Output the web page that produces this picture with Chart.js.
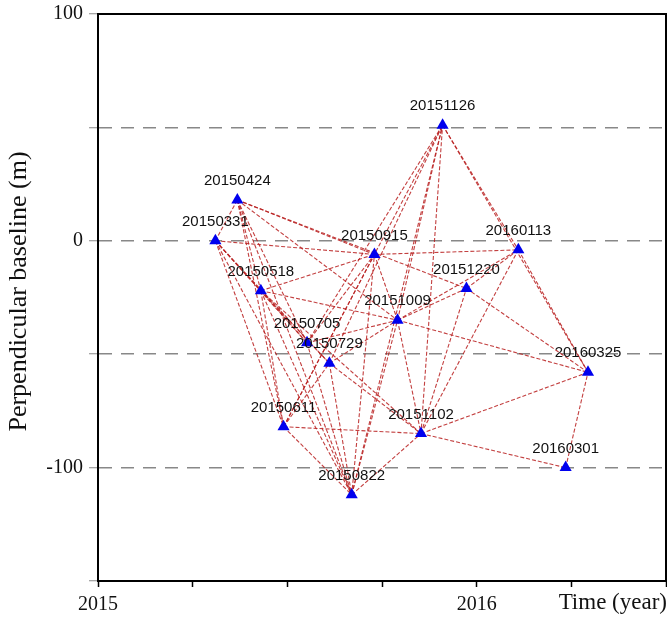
<!DOCTYPE html>
<html>
<head>
<meta charset="utf-8">
<script src="https://cdn.jsdelivr.net/npm/chart.js@4/dist/chart.umd.min.js"></script>
<style>
html,body{margin:0;padding:0;background:#fff;}
#wrap{width:667px;height:619px;}
</style>
</head>
<body>
<div id="wrap"><canvas id="c" width="667" height="619"></canvas></div>
<script>
// Acquisition dates (labels)
const dates = ['20150331','20150424','20150518','20150611','20150705','20150729','20150822','20150915','20151009','20151102','20151126','20151220','20160113','20160301','20160325'];
// Time positions (decimal year, as plotted)
const times = [2015.310,2015.368,2015.430,2015.490,2015.552,2015.611,2015.670,2015.730,2015.791,2015.853,2015.910,2015.973,2016.110,2016.235,2016.294];
// Perpendicular baselines (m)
const baselines = [0,18,-22,-82,-45,-54,-112,-6,-35,-85,51,-21,-4,-100,-58];
// Interferometric pairs (master, slave)
const pairs = [
 ['20150331','20150424'],['20150331','20150518'],['20150331','20150611'],['20150331','20150705'],
 ['20150331','20150729'],['20150331','20150822'],['20150331','20150915'],
 ['20150424','20150518'],['20150424','20150611'],['20150424','20150705'],['20150424','20150822'],
 ['20150424','20150915'],['20150424','20151009'],['20150424','20151220'],
 ['20150518','20150611'],['20150518','20150705'],['20150518','20150729'],['20150518','20150822'],
 ['20150518','20150915'],['20150518','20151009'],['20150518','20151102'],
 ['20150611','20150729'],['20150611','20150822'],['20150611','20150915'],['20150611','20151102'],['20150611','20151126'],
 ['20150705','20150822'],['20150705','20151009'],['20150705','20150915'],['20150705','20151126'],
 ['20150729','20150822'],['20150729','20151009'],['20150729','20151102'],['20150729','20151126'],
 ['20150822','20150915'],['20150822','20151009'],['20150822','20151102'],['20150822','20151126'],
 ['20150915','20151009'],['20150915','20160113'],
 ['20151009','20151102'],['20151009','20151126'],['20151009','20151220'],['20151009','20160113'],['20151009','20160325'],
 ['20151102','20151126'],['20151102','20151220'],['20151102','20160113'],['20151102','20160301'],['20151102','20160325'],
 ['20151220','20160113'],['20151220','20160325'],
 ['20151126','20160113'],['20151126','20160325'],['20160113','20160325'],['20160301','20160325']
];
// Axis settings
const xTickLabels = [2015, 2016];
const yTickLabels = [100, 0, -100];

const pt = d => { const i = dates.indexOf(d); return {x: times[i], y: baselines[i]}; };

const datasets = [{
  type: 'scatter',
  label: 'acquisitions',
  data: dates.map((d,i)=>({x: times[i], y: baselines[i]})),
  pointStyle: 'triangle',
  pointRadius: 7,
  pointHoverRadius: 7,
  backgroundColor: '#0000ee',
  borderColor: '#0000ee',
  borderWidth: 0,
  order: 0
}];
pairs.forEach(p => {
  datasets.push({
    type: 'line',
    data: [pt(p[0]), pt(p[1])],
    showLine: true,
    pointRadius: 0,
    borderColor: 'rgba(185,30,30,0.85)',
    borderWidth: 1.1,
    borderDash: [4,2],
    fill: false,
    tension: 0,
    order: 1
  });
});

const labelPlugin = {
  id: 'labels',
  afterDatasetsDraw(chart) {
    const {ctx, scales:{x, y}} = chart;
    ctx.save();
    ctx.font = '15px "Liberation Sans", Arial, sans-serif';
    ctx.fillStyle = '#111';
    ctx.textAlign = 'center';
    ctx.textBaseline = 'middle';
    dates.forEach((d,i) => {
      ctx.fillText(d, x.getPixelForValue(times[i]), y.getPixelForValue(baselines[i]) - 19);
    });
    ctx.restore();
  },
  afterDraw(chart) {
    const {ctx, chartArea:a} = chart;
    ctx.save();
    ctx.strokeStyle = '#000';
    ctx.lineWidth = 2;
    ctx.strokeRect(a.left, a.top, a.right - a.left, a.bottom - a.top);
    // axis titles
    ctx.fillStyle = '#111';
    ctx.font = '23px "Liberation Serif", "Times New Roman", serif';
    ctx.textAlign = 'right';
    ctx.textBaseline = 'middle';
    ctx.fillText('Time (year)', 667, 603);
    ctx.font = '26px "Liberation Serif", "Times New Roman", serif';
    ctx.translate(19, (a.top + a.bottom) / 2 - 6);
    ctx.rotate(-Math.PI/2);
    ctx.textAlign = 'center';
    ctx.fillText('Perpendicular baseline (m)', 0, 0);
    ctx.restore();
  }
};

new Chart(document.getElementById('c'), {
  type: 'scatter',
  data: { datasets },
  options: {
    responsive: false,
    animation: false,
    layout: { autoPadding: false, padding: { top: 14, right: 1, left: 0, bottom: 0 } },
    plugins: { legend: { display: false }, tooltip: { enabled: false } },
    scales: {
      x: {
        type: 'linear', min: 2015, max: 2016.5,
        afterFit: s => { s.height = 38; s.paddingLeft = 0; s.paddingRight = 0; },
        ticks: {
          stepSize: 0.25, autoSkip: false, maxRotation: 0,
          color: '#111', padding: 6,
          font: { family: '"Liberation Serif", "Times New Roman", serif', size: 20 },
          callback: v => xTickLabels.includes(v) ? String(v) : ''
        },
        grid: { drawOnChartArea: false, drawTicks: true, tickLength: 6, tickColor: '#000', tickWidth: 1.5 },
        border: { display: true, color: '#000', width: 2 }
      },
      y: {
        type: 'linear', min: -150, max: 100,
        afterFit: s => { s.width = 98; s.paddingTop = 0; s.paddingBottom = 0; },
        ticks: {
          stepSize: 50, autoSkip: false, color: '#111', padding: 6,
          font: { family: '"Liberation Serif", "Times New Roman", serif', size: 20 },
          callback: v => yTickLabels.includes(v) ? String(v) : ''
        },
        grid: {
          drawOnChartArea: true, drawTicks: true, tickLength: 9,
          tickColor: '#888', tickWidth: 1,
          lineWidth: 1.5,
          color: c => (c.tick && (c.tick.value === 100 || c.tick.value === -150)) ? 'rgba(0,0,0,0)' : '#888'
        },
        border: { display: true, color: '#000', width: 2, dash: [13, 9] }
      }
    }
  },
  plugins: [labelPlugin]
});
</script>
</body>
</html>
